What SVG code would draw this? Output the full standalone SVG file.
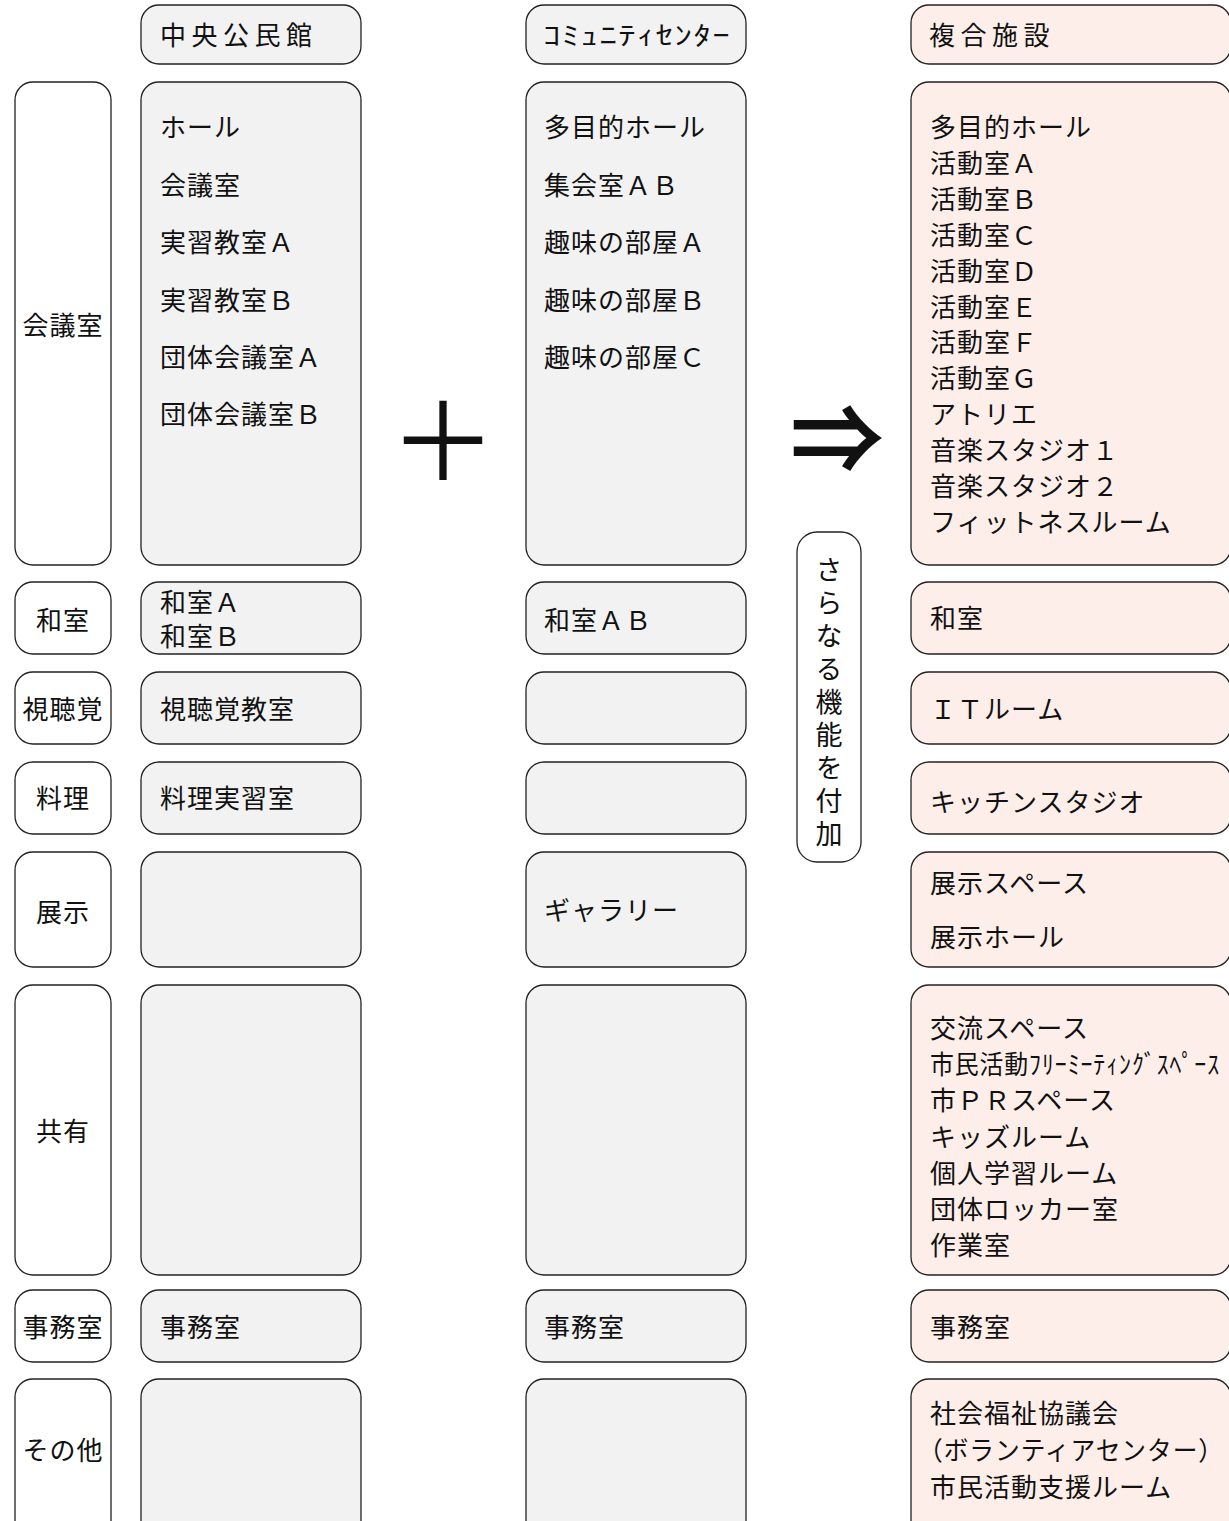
<svg xmlns="http://www.w3.org/2000/svg" width="1229" height="1521" viewBox="0 0 1229 1521">
<style>
text{font-family:"Noto Sans CJK JP","Noto Sans",sans-serif;font-size:26px;fill:#111;letter-spacing:1px}
.lab rect{fill:#fff;stroke:#222;stroke-width:1.3}
.old rect{fill:#f2f2f2;stroke:#222;stroke-width:1.3}
.new rect{fill:#fdeee9;stroke:#222;stroke-width:1.3}
.c{text-anchor:middle}
.hd{letter-spacing:5.5px}
</style>
<rect width="1229" height="1521" fill="#fff"/>

<!-- headers -->
<g id="h-chuo" class="old"><rect x="141" y="5" width="220" height="59" rx="18"/><text class="hd" x="160" y="45">中央公民館</text></g>
<g id="h-comm" class="old"><rect x="526" y="5" width="220" height="59" rx="18"/><text x="543" y="45" textLength="188" lengthAdjust="spacingAndGlyphs">ｺﾐｭﾆﾃｨｾﾝﾀｰ</text></g>
<g id="h-fuku" class="new"><rect x="911" y="5" width="320" height="59" rx="18"/><text class="hd" x="929" y="45">複合施設</text></g>

<!-- row labels -->
<g id="l-kaigi" class="lab"><rect x="15" y="82" width="96" height="483" rx="18"/><text class="c" x="63" y="335">会議室</text></g>
<g id="l-washitsu" class="lab"><rect x="15" y="582" width="96" height="72" rx="18"/><text class="c" x="63" y="630">和室</text></g>
<g id="l-shichokaku" class="lab"><rect x="15" y="672" width="96" height="72" rx="18"/><text class="c" x="63" y="719">視聴覚</text></g>
<g id="l-ryori" class="lab"><rect x="15" y="762" width="96" height="72" rx="18"/><text class="c" x="63" y="808">料理</text></g>
<g id="l-tenji" class="lab"><rect x="15" y="852" width="96" height="115" rx="18"/><text class="c" x="63" y="922">展示</text></g>
<g id="l-kyoyu" class="lab"><rect x="15" y="985" width="96" height="290" rx="18"/><text class="c" x="63" y="1141">共有</text></g>
<g id="l-jimu" class="lab"><rect x="15" y="1290" width="96" height="72" rx="18"/><text class="c" x="63" y="1337">事務室</text></g>
<g id="l-sonota" class="lab"><rect x="15" y="1379" width="96" height="170" rx="18"/><text class="c" x="63" y="1460">その他</text></g>

<!-- 中央公民館 column -->
<g id="a-kaigi" class="old"><rect x="141" y="82" width="220" height="483" rx="18"/>
<text x="160" y="137">ホール</text><text x="160" y="195">会議室</text><text x="160" y="252">実習教室Ａ</text><text x="160" y="310">実習教室Ｂ</text><text x="160" y="367">団体会議室Ａ</text><text x="160" y="424">団体会議室Ｂ</text></g>
<g id="a-washitsu" class="old"><rect x="141" y="582" width="220" height="72" rx="18"/><text x="160" y="612">和室Ａ</text><text x="160" y="646">和室Ｂ</text></g>
<g id="a-shichokaku" class="old"><rect x="141" y="672" width="220" height="72" rx="18"/><text x="160" y="719">視聴覚教室</text></g>
<g id="a-ryori" class="old"><rect x="141" y="762" width="220" height="72" rx="18"/><text x="160" y="808">料理実習室</text></g>
<g id="a-tenji" class="old"><rect x="141" y="852" width="220" height="115" rx="18"/></g>
<g id="a-kyoyu" class="old"><rect x="141" y="985" width="220" height="290" rx="18"/></g>
<g id="a-jimu" class="old"><rect x="141" y="1290" width="220" height="72" rx="18"/><text x="160" y="1337">事務室</text></g>
<g id="a-sonota" class="old"><rect x="141" y="1379" width="220" height="170" rx="18"/></g>

<!-- コミュニティセンター column -->
<g id="b-kaigi" class="old"><rect x="526" y="82" width="220" height="483" rx="18"/>
<text x="544" y="137">多目的ホール</text><text x="544" y="195">集会室ＡＢ</text><text x="544" y="252">趣味の部屋Ａ</text><text x="544" y="310">趣味の部屋Ｂ</text><text x="544" y="367">趣味の部屋Ｃ</text></g>
<g id="b-washitsu" class="old"><rect x="526" y="582" width="220" height="72" rx="18"/><text x="544" y="630">和室ＡＢ</text></g>
<g id="b-shichokaku" class="old"><rect x="526" y="672" width="220" height="72" rx="18"/></g>
<g id="b-ryori" class="old"><rect x="526" y="762" width="220" height="72" rx="18"/></g>
<g id="b-tenji" class="old"><rect x="526" y="852" width="220" height="115" rx="18"/><text x="544" y="920">ギャラリー</text></g>
<g id="b-kyoyu" class="old"><rect x="526" y="985" width="220" height="290" rx="18"/></g>
<g id="b-jimu" class="old"><rect x="526" y="1290" width="220" height="72" rx="18"/><text x="544" y="1337">事務室</text></g>
<g id="b-sonota" class="old"><rect x="526" y="1379" width="220" height="170" rx="18"/></g>

<!-- 複合施設 column -->
<g id="c-kaigi" class="new"><rect x="911" y="82" width="320" height="483" rx="18"/>
<text x="930" y="137">多目的ホール</text><text x="930" y="173">活動室Ａ</text><text x="930" y="209">活動室Ｂ</text><text x="930" y="245">活動室Ｃ</text><text x="930" y="281">活動室Ｄ</text><text x="930" y="317">活動室Ｅ</text><text x="930" y="352">活動室Ｆ</text><text x="930" y="388">活動室Ｇ</text><text x="930" y="424">アトリエ</text><text x="930" y="460">音楽スタジオ１</text><text x="930" y="496">音楽スタジオ２</text><text x="930" y="532">フィットネスルーム</text></g>
<g id="c-washitsu" class="new"><rect x="911" y="582" width="320" height="72" rx="18"/><text x="930" y="628">和室</text></g>
<g id="c-it" class="new"><rect x="911" y="672" width="320" height="72" rx="18"/><text x="930" y="719">ＩＴルーム</text></g>
<g id="c-kitchen" class="new"><rect x="911" y="762" width="320" height="72" rx="18"/><text x="930" y="812">キッチンスタジオ</text></g>
<g id="c-tenji" class="new"><rect x="911" y="852" width="320" height="115" rx="18"/><text x="930" y="893">展示スペース</text><text x="930" y="947">展示ホール</text></g>
<g id="c-kyoyu" class="new"><rect x="911" y="985" width="320" height="290" rx="18"/>
<text x="930" y="1038">交流スペース</text><text x="930" y="1074" textLength="290" lengthAdjust="spacingAndGlyphs">市民活動ﾌﾘｰﾐｰﾃｨﾝｸﾞｽﾍﾟｰｽ</text><text x="930" y="1110">市ＰＲスペース</text><text x="930" y="1147">キッズルーム</text><text x="930" y="1183">個人学習ルーム</text><text x="930" y="1219">団体ロッカー室</text><text x="930" y="1255">作業室</text></g>
<g id="c-jimu" class="new"><rect x="911" y="1290" width="320" height="72" rx="18"/><text x="930" y="1337">事務室</text></g>
<g id="c-sonota" class="new"><rect x="911" y="1379" width="320" height="170" rx="18"/>
<text x="930" y="1423">社会福祉協議会</text><text x="918" y="1460" textLength="306" lengthAdjust="spacingAndGlyphs">（ボランティアセンター）</text><text x="930" y="1497">市民活動支援ルーム</text></g>

<!-- symbols -->
<g id="plus"><text class="c" x="443" y="481" style="font-size:108px;letter-spacing:0">＋</text></g>
<g id="arrow"><text x="790" y="474" style="font-size:94px;letter-spacing:0;font-weight:bold">⇒</text></g>

<!-- note -->
<g id="note" class="lab"><rect x="797" y="532" width="64" height="330" rx="20"/>
<text x="829" y="556" writing-mode="vertical-rl" style="font-size:27px;letter-spacing:6px">さらなる機能を付加</text></g>
</svg>
